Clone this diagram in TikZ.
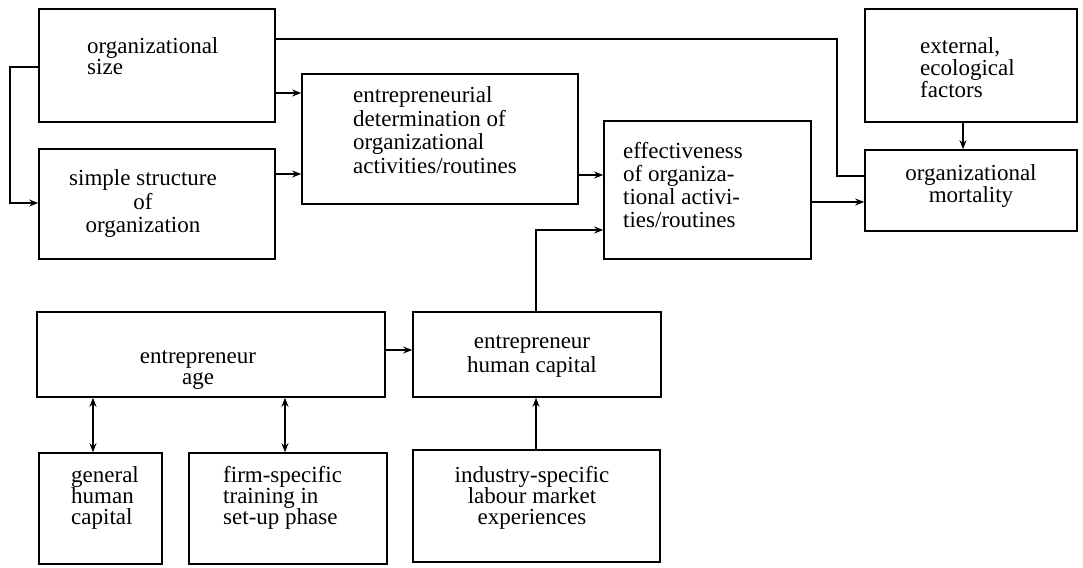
\documentclass[tikz,border=0pt]{standalone}
\usepackage{fontspec}
\setmainfont{Liberation Serif}
\usetikzlibrary{arrows.meta,fit}
\newcommand\firstln{\rule{0pt}{15.6pt}}
\begin{document}
\begin{tikzpicture}[x=1pt,y=-1pt,
  box/.style={draw, line width=1.6pt, inner sep=0pt},
  txt/.style={inner sep=0pt, font=\fontsize{23}{22}\selectfont},
  tight/.style={font=\fontsize{23}{21}\selectfont},
  conn/.style={line width=1.6pt, -{Stealth[length=9pt,width=7pt]}},
  dconn/.style={line width=1.6pt, {Stealth[length=9pt,width=7pt]}-{Stealth[length=9pt,width=7pt]}},
  plainline/.style={line width=1.6pt}]
\useasboundingbox (0,0) rectangle (1083,567);
% boxes
\node[box, fit={(39,9) (275,122)}] (size) {};
\node[box, fit={(39,149) (275,259)}] (simple) {};
\node[box, fit={(302,74) (578,204)}] (entre) {};
\node[box, fit={(604,121) (811,259)}] (eff) {};
\node[box, fit={(865,9) (1077,122)}] (ext) {};
\node[box, fit={(865,150) (1077,231)}] (mort) {};
\node[box, fit={(37,312) (385,397)}] (age) {};
\node[box, fit={(413,312) (661,397)}] (hc) {};
\node[box, fit={(39,453) (162,564)}] (gen) {};
\node[box, fit={(189,453) (387,564)}] (firm) {};
\node[box, fit={(413,450) (660,562)}] (ind) {};
% texts
\node[txt, tight, align=left, anchor=north west] (sizet) at (87,37.5) {\firstln organizational\\size};
\node[txt, font=\fontsize{23}{23.5}\selectfont, align=center, anchor=north] (simplet) at (143,169.5) {\firstln simple structure\\of\\organization};
\node[txt, font=\fontsize{23}{23.5}\selectfont, align=left, anchor=north west] (entret) at (353,86.5) {\firstln entrepreneurial\\determination of\\organizational\\activities/routines};
\node[txt, font=\fontsize{23}{23}\selectfont, align=left, anchor=north west] (efft) at (623,142.5) {\firstln effectiveness\\of organiza-\\tional activi-\\ties/routines};
\node[txt, align=left, anchor=north west] (extt) at (920,37.5) {\firstln external,\\ecological\\factors};
\node[txt, align=center, anchor=north] (mortt) at (971,164.5) {\firstln organizational\\mortality};
\node[txt, tight, align=center, anchor=north] (aget) at (198,347.5) {\firstln entrepreneur\\age};
\node[txt, font=\fontsize{23}{24}\selectfont, align=center, anchor=north] (hct) at (532,332.5) {\firstln entrepreneur\\human capital};
\node[txt, tight, align=left, anchor=north west] (gent) at (71,466.5) {\firstln general\\human\\capital};
\node[txt, tight, align=left, anchor=north west] (firmt) at (223,466.5) {\firstln firm-specific\\training in\\set-up phase};
\node[txt, tight, align=center, anchor=north] (indt) at (532,466.5) {\firstln industry-specific\\labour market\\experiences};
% connectors
\draw[conn] (size.west |- 0,67) -- (10,67) -- (10,203) -- (simple.west |- 0,203);
\draw[plainline] (size.east |- 0,39) -- (837,39) -- (837,176) -- (mort.west |- 0,176);
\draw[conn] (size.east |- 0,93) -- (entre.west |- 0,93);
\draw[conn] (simple.east |- 0,174) -- (entre.west |- 0,174);
\draw[conn] (entre.east |- 0,175) -- (eff.west |- 0,175);
\draw[conn] (eff.east |- 0,202) -- (mort.west |- 0,202);
\draw[conn] (ext.south -| 963,0) -- (mort.north -| 963,0);
\draw[conn] (hc.north -| 536,0) |- (eff.west |- 0,230);
\draw[conn] (age.east |- 0,350) -- (hc.west |- 0,350);
\draw[dconn] (age.south -| 93,0) -- (gen.north -| 93,0);
\draw[dconn] (age.south -| 285,0) -- (firm.north -| 285,0);
\draw[conn] (ind.north -| 536,0) -- (hc.south -| 536,0);
\end{tikzpicture}
\end{document}
